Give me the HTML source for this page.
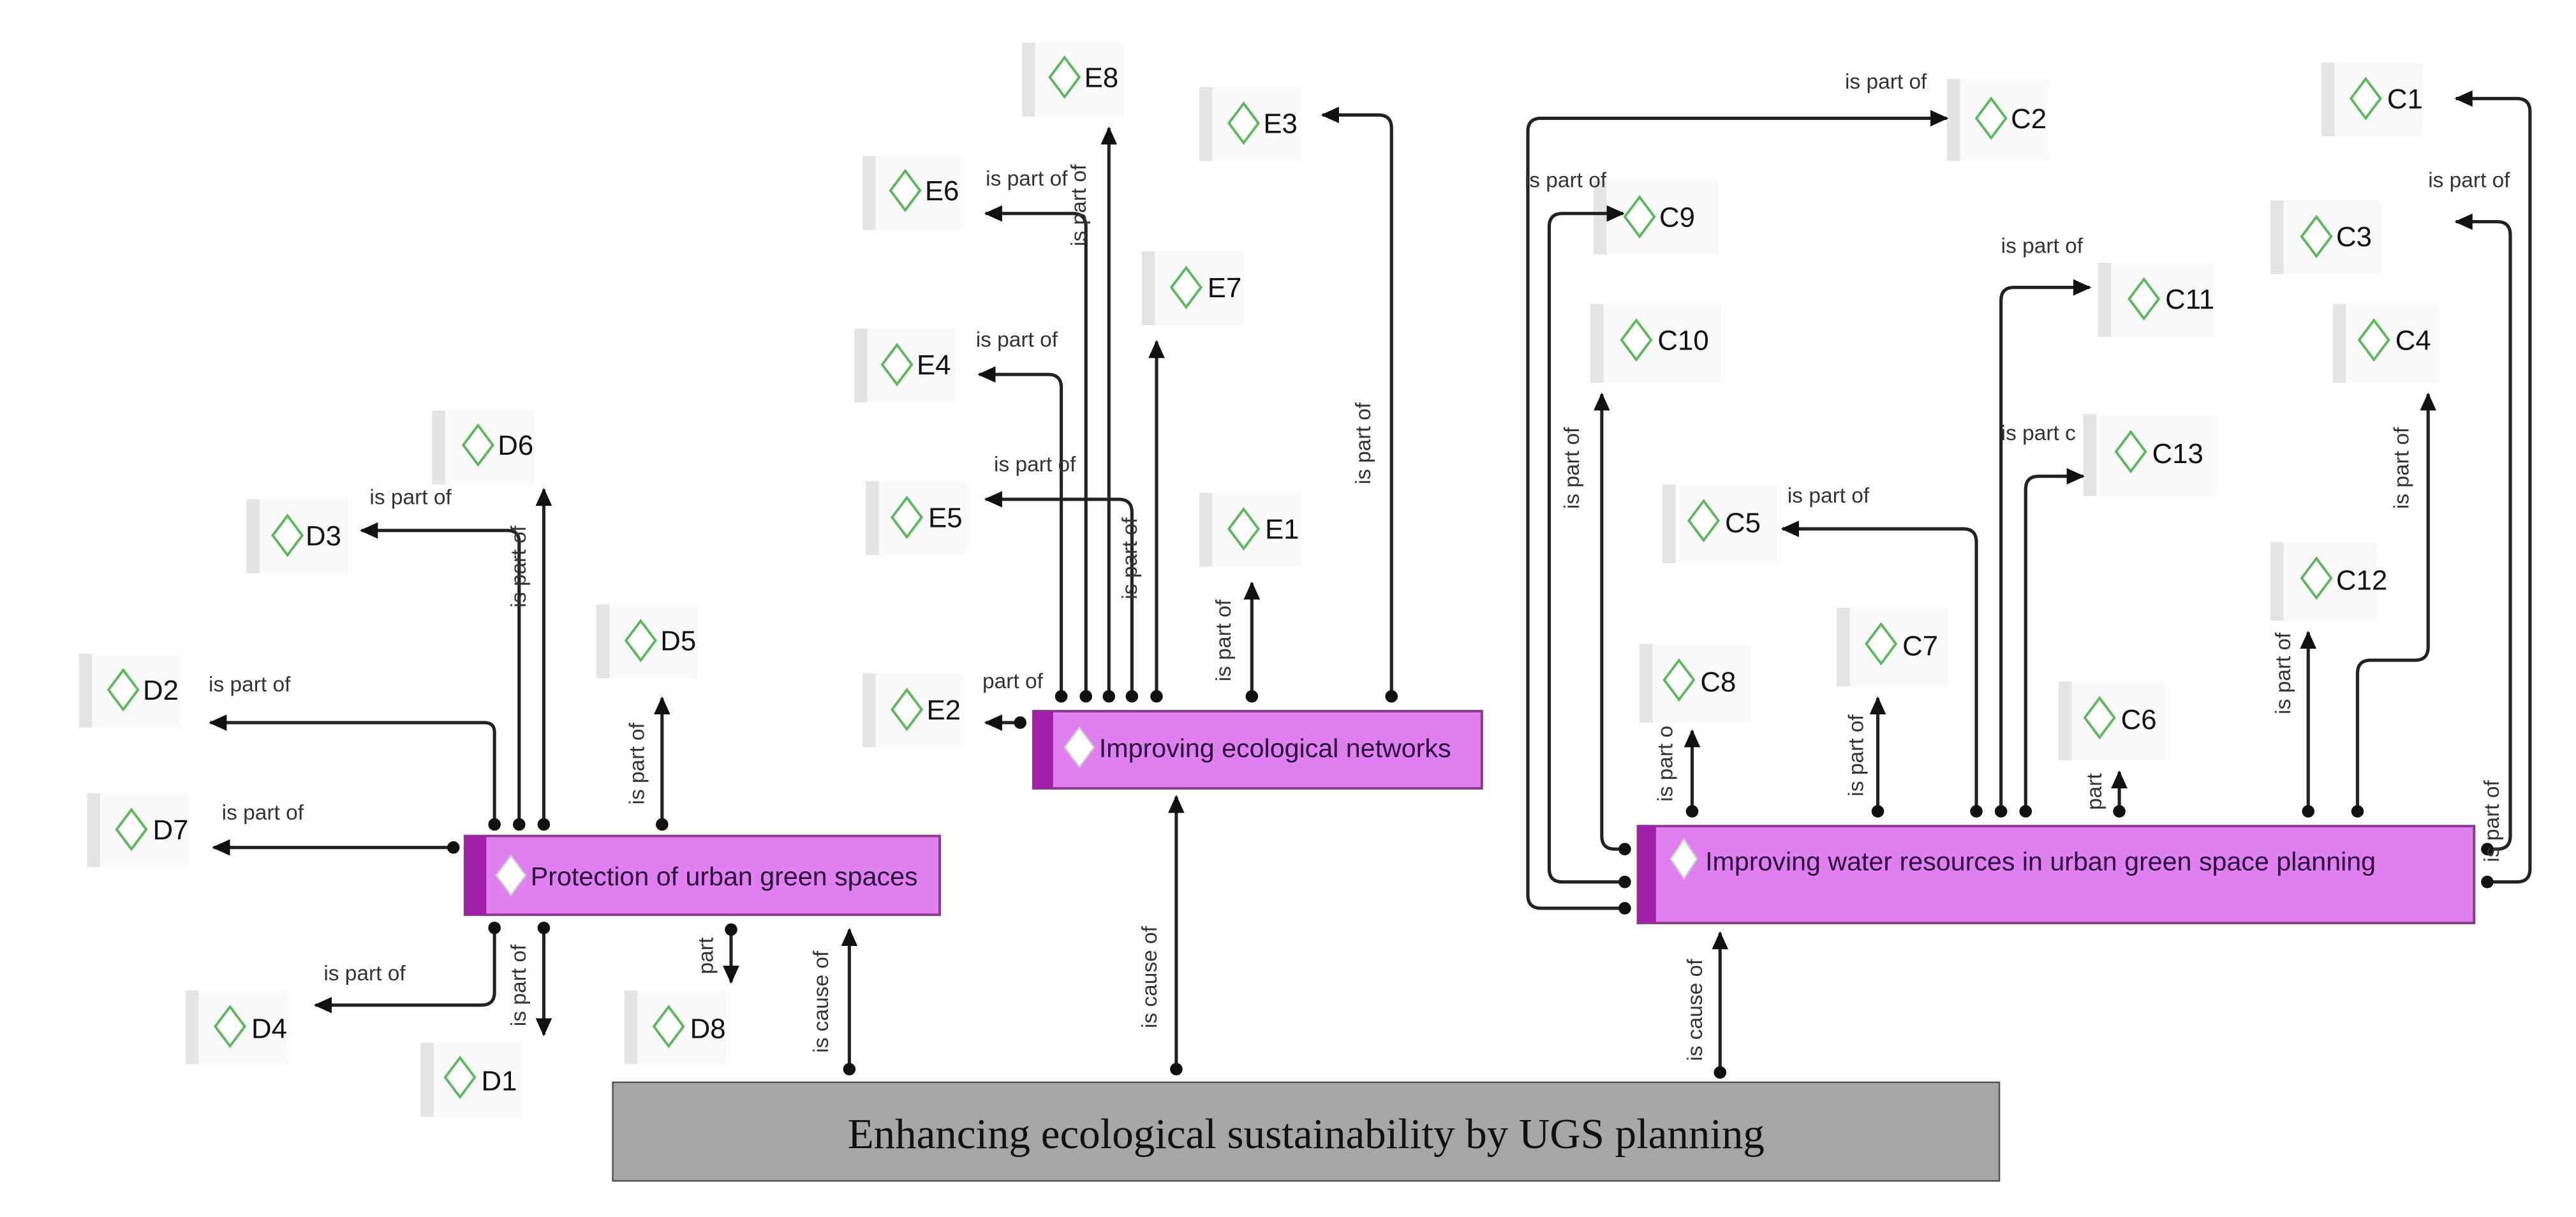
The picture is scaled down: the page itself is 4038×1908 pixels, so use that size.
<!DOCTYPE html>
<html><head><meta charset="utf-8"><style>
html,body{margin:0;padding:0;background:#fff;}
svg{display:block;}
text{font-family:"Liberation Sans",sans-serif;}
.l{font-size:13px;fill:#333;}
.n{font-size:17px;fill:#111;}
.m{font-size:16px;fill:#2a0a3a;}
.c{fill:none;stroke:#222;stroke-width:2;marker-start:url(#dot);marker-end:url(#arr);}
.box{fill:#f9f9f9;}
.str{fill:#e4e4e4;}
.dm{fill:#fff;stroke:#5cb85c;stroke-width:1.5;}
</style></head><body>
<svg width="4038" height="1908" viewBox="0 0 1568 741" preserveAspectRatio="none" xmlns="http://www.w3.org/2000/svg">
<defs>
<marker id="dot" markerWidth="8" markerHeight="8" refX="4" refY="4" markerUnits="userSpaceOnUse"><circle cx="4" cy="4" r="3.8" fill="#111"/></marker>
<marker id="arr" markerWidth="12" markerHeight="12" refX="10" refY="6" orient="auto" markerUnits="userSpaceOnUse"><path d="M0,1 L11,6 L0,11 Z" fill="#111"/></marker>
</defs>

<!-- small nodes -->
<g>
<!-- helper pattern repeated: rect, stripe, diamond, text -->
<g transform="translate(263,250)"><rect class="box" width="62" height="45"/><rect class="str" width="8" height="45"/><polygon class="dm" points="28,9 37,21 28,33 19,21"/><text class="n" x="40" y="27">D6</text></g>
<g transform="translate(150,304)"><rect class="box" width="62" height="45"/><rect class="str" width="8" height="45"/><polygon class="dm" points="25,10 34,22 25,34 16,22"/><text class="n" x="36" y="28">D3</text></g>
<g transform="translate(363,368)"><rect class="box" width="62" height="45"/><rect class="str" width="8" height="45"/><polygon class="dm" points="27,10 36,22 27,34 18,22"/><text class="n" x="39" y="28">D5</text></g>
<g transform="translate(48,398)"><rect class="box" width="62" height="45"/><rect class="str" width="8" height="45"/><polygon class="dm" points="27,10 36,22 27,34 18,22"/><text class="n" x="39" y="28">D2</text></g>
<g transform="translate(53,483)"><rect class="box" width="62" height="45"/><rect class="str" width="8" height="45"/><polygon class="dm" points="27,10 36,22 27,34 18,22"/><text class="n" x="40" y="28">D7</text></g>
<g transform="translate(113,603)"><rect class="box" width="62" height="45"/><rect class="str" width="8" height="45"/><polygon class="dm" points="27,10 36,22 27,34 18,22"/><text class="n" x="40" y="29">D4</text></g>
<g transform="translate(256,635)"><rect class="box" width="62" height="45"/><rect class="str" width="8" height="45"/><polygon class="dm" points="24,9 33,21 24,33 15,21"/><text class="n" x="37" y="29">D1</text></g>
<g transform="translate(380,603)"><rect class="box" width="62" height="45"/><rect class="str" width="8" height="45"/><polygon class="dm" points="27,10 36,22 27,34 18,22"/><text class="n" x="40" y="29">D8</text></g>

<g transform="translate(622,26)"><rect class="box" width="62" height="45"/><rect class="str" width="8" height="45"/><polygon class="dm" points="26,9 35,21 26,33 17,21"/><text class="n" x="38" y="27">E8</text></g>
<g transform="translate(730,53)"><rect class="box" width="62" height="45"/><rect class="str" width="8" height="45"/><polygon class="dm" points="27,10 36,22 27,34 18,22"/><text class="n" x="39" y="28">E3</text></g>
<g transform="translate(525,95)"><rect class="box" width="62" height="45"/><rect class="str" width="8" height="45"/><polygon class="dm" points="26,9 35,21 26,33 17,21"/><text class="n" x="38" y="27">E6</text></g>
<g transform="translate(695,153)"><rect class="box" width="62" height="45"/><rect class="str" width="8" height="45"/><polygon class="dm" points="27,10 36,22 27,34 18,22"/><text class="n" x="40" y="28">E7</text></g>
<g transform="translate(520,200)"><rect class="box" width="62" height="45"/><rect class="str" width="8" height="45"/><polygon class="dm" points="26,10 35,22 26,34 17,22"/><text class="n" x="38" y="28">E4</text></g>
<g transform="translate(527,293)"><rect class="box" width="62" height="45"/><rect class="str" width="8" height="45"/><polygon class="dm" points="25,10 34,22 25,34 16,22"/><text class="n" x="38" y="28">E5</text></g>
<g transform="translate(730,300)"><rect class="box" width="62" height="45"/><rect class="str" width="8" height="45"/><polygon class="dm" points="27,10 36,22 27,34 18,22"/><text class="n" x="40" y="28">E1</text></g>
<g transform="translate(525,410)"><rect class="box" width="62" height="45"/><rect class="str" width="8" height="45"/><polygon class="dm" points="27,10 36,22 27,34 18,22"/><text class="n" x="39" y="28">E2</text></g>

<g transform="translate(1185,48)"><rect class="box" width="62" height="50"/><rect class="str" width="8" height="50"/><polygon class="dm" points="27,12 36,24 27,36 18,24"/><text class="n" x="39" y="30">C2</text></g>
<g transform="translate(1413,38)"><rect class="box" width="62" height="45"/><rect class="str" width="8" height="45"/><polygon class="dm" points="27,10 36,22 27,34 18,22"/><text class="n" x="40" y="28">C1</text></g>
<g transform="translate(970,110)"><rect class="box" width="76" height="45"/><rect class="str" width="8" height="45"/><polygon class="dm" points="28,10 37,22 28,34 19,22"/><text class="n" x="40" y="28">C9</text></g>
<g transform="translate(1382,122)"><rect class="box" width="68" height="45"/><rect class="str" width="8" height="45"/><polygon class="dm" points="28,10 37,22 28,34 19,22"/><text class="n" x="40" y="28">C3</text></g>
<g transform="translate(1277,160)"><rect class="box" width="70" height="45"/><rect class="str" width="8" height="45"/><polygon class="dm" points="28,10 37,22 28,34 19,22"/><text class="n" x="41" y="28">C11</text></g>
<g transform="translate(968,185)"><rect class="box" width="80" height="48"/><rect class="str" width="8" height="48"/><polygon class="dm" points="28,10 37,22 28,34 19,22"/><text class="n" x="41" y="28">C10</text></g>
<g transform="translate(1420,185)"><rect class="box" width="65" height="48"/><rect class="str" width="8" height="48"/><polygon class="dm" points="25,10 34,22 25,34 16,22"/><text class="n" x="38" y="28">C4</text></g>
<g transform="translate(1268,252)"><rect class="box" width="82" height="50"/><rect class="str" width="8" height="50"/><polygon class="dm" points="29,11 38,23 29,35 20,23"/><text class="n" x="42" y="30">C13</text></g>
<g transform="translate(1012,295)"><rect class="box" width="70" height="48"/><rect class="str" width="8" height="48"/><polygon class="dm" points="25,10 34,22 25,34 16,22"/><text class="n" x="38" y="29">C5</text></g>
<g transform="translate(1382,330)"><rect class="box" width="65" height="48"/><rect class="str" width="8" height="48"/><polygon class="dm" points="28,10 37,22 28,34 19,22"/><text class="n" x="40" y="29">C12</text></g>
<g transform="translate(1118,370)"><rect class="box" width="68" height="48"/><rect class="str" width="8" height="48"/><polygon class="dm" points="27,10 36,22 27,34 18,22"/><text class="n" x="40" y="29">C7</text></g>
<g transform="translate(998,392)"><rect class="box" width="68" height="48"/><rect class="str" width="8" height="48"/><polygon class="dm" points="24,10 33,22 24,34 15,22"/><text class="n" x="37" y="29">C8</text></g>
<g transform="translate(1253,415)"><rect class="box" width="65" height="48"/><rect class="str" width="8" height="48"/><polygon class="dm" points="25,10 34,22 25,34 16,22"/><text class="n" x="38" y="29">C6</text></g>
</g>

<!-- main nodes -->
<rect x="283" y="509" width="289" height="48" fill="#e07ff0" stroke="#8a3a8a" stroke-width="1.5"/>
<rect x="283" y="509" width="13" height="48" fill="#a020a8"/>
<polygon points="311,521 320,533 311,545 302,533" fill="#fff" stroke="#ccc"/>
<text class="m" x="323" y="539">Protection of urban green spaces</text>

<rect x="629" y="433" width="273" height="47" fill="#e07ff0" stroke="#8a3a8a" stroke-width="1.5"/>
<rect x="629" y="433" width="12" height="47" fill="#a020a8"/>
<polygon points="657,443 666,455 657,467 648,455" fill="#fff" stroke="#ccc"/>
<text class="m" x="669" y="461">Improving ecological networks</text>

<rect x="997" y="503" width="509" height="59" fill="#e07ff0" stroke="#8a3a8a" stroke-width="1.5"/>
<rect x="997" y="503" width="11" height="59" fill="#a020a8"/>
<polygon points="1025,511 1033,523 1025,535 1017,523" fill="#fff" stroke="#ccc"/>
<text class="m" x="1038" y="530">Improving water resources in urban green space planning</text>

<!-- bottom box -->
<rect x="373" y="659" width="844" height="60" fill="#a6a6a6" stroke="#555" stroke-width="1"/>
<text x="795" y="699" text-anchor="middle" style="font-family:'Liberation Serif',serif;font-size:26px;fill:#111">Enhancing ecological sustainability by UGS planning</text>

<!-- Protection connectors -->
<path class="c" d="M301,502 V446 Q301,440 295,440 H128"/>
<path class="c" d="M316,502 V330 Q316,323 309,323 H220"/>
<path class="c" d="M331,502 V298"/>
<path class="c" d="M403,502 V425"/>
<path class="c" d="M276,516 H130"/>
<path class="c" d="M301,565 V604 Q301,612 293,612 H192"/>
<path class="c" d="M331,565 V630"/>
<path class="c" d="M445,566 V598"/>
<path class="c" d="M517,651 V566"/>

<!-- Eco connectors -->
<path class="c" d="M646,424 V236 Q646,228 638,228 H596"/>
<path class="c" d="M661,424 V138 Q661,130 653,130 H600"/>
<path class="c" d="M675,424 V78"/>
<path class="c" d="M689,424 V312 Q689,304 681,304 H600"/>
<path class="c" d="M704,424 V208"/>
<path class="c" d="M762,424 V355"/>
<path class="c" d="M847,424 V78 Q847,70 839,70 H805"/>
<path class="c" d="M621,440 H600"/>
<path class="c" d="M716,651 V485"/>

<!-- Water connectors -->
<path class="c" d="M989,553 H938 Q930,553 930,545 V80 Q930,72 938,72 H1185"/>
<path class="c" d="M989,537 H951 Q943,537 943,529 V138 Q943,130 951,130 H988"/>
<path class="c" d="M989,517 H983 Q975,517 975,509 V240"/>
<path class="c" d="M1030,494 V445"/>
<path class="c" d="M1143,494 V425"/>
<path class="c" d="M1203,494 V330 Q1203,322 1195,322 H1085"/>
<path class="c" d="M1218,494 V183 Q1218,175 1226,175 H1272"/>
<path class="c" d="M1233,494 V298 Q1233,290 1241,290 H1268"/>
<path class="c" d="M1290,494 V470"/>
<path class="c" d="M1405,494 V385"/>
<path class="c" d="M1435,494 V410 Q1435,402 1443,402 H1470 Q1478,402 1478,394 V240"/>
<path class="c" d="M1514,517 H1520 Q1528,517 1528,509 V143 Q1528,135 1520,135 H1495"/>
<path class="c" d="M1514,537 H1532 Q1540,537 1540,529 V68 Q1540,60 1532,60 H1495"/>
<path class="c" d="M1047,653 V568"/>

<!-- horizontal labels -->
<text class="l" x="127" y="421">is part of</text>
<text class="l" x="225" y="307">is part of</text>
<text class="l" x="135" y="499">is part of</text>
<text class="l" x="197" y="597">is part of</text>
<text class="l" x="594" y="211">is part of</text>
<text class="l" x="600" y="113">is part of</text>
<text class="l" x="605" y="287">is part of</text>
<text class="l" x="598" y="419">part of</text>
<text class="l" x="1123" y="54">is part of</text>
<text class="l" x="928" y="114">is part of</text>
<text class="l" x="1218" y="154">is part of</text>
<text class="l" x="1218" y="268">is part c</text>
<text class="l" x="1088" y="306">is part of</text>
<text class="l" x="1478" y="114">is part of</text>

<!-- vertical labels -->
<g class="l">
<text transform="translate(320,345) rotate(-90)" text-anchor="middle">is part of</text>
<text transform="translate(392,465) rotate(-90)" text-anchor="middle">is part of</text>
<text transform="translate(320,600) rotate(-90)" text-anchor="middle">is part of</text>
<text transform="translate(434,582) rotate(-90)" text-anchor="middle">part</text>
<text transform="translate(504,610) rotate(-90)" text-anchor="middle">is cause of</text>
<text transform="translate(661,125) rotate(-90)" text-anchor="middle">is part of</text>
<text transform="translate(692,340) rotate(-90)" text-anchor="middle">is part of</text>
<text transform="translate(749,390) rotate(-90)" text-anchor="middle">is part of</text>
<text transform="translate(834,270) rotate(-90)" text-anchor="middle">is part of</text>
<text transform="translate(704,595) rotate(-90)" text-anchor="middle">is cause of</text>
<text transform="translate(961,285) rotate(-90)" text-anchor="middle">is part of</text>
<text transform="translate(1018,465) rotate(-90)" text-anchor="middle">is part o</text>
<text transform="translate(1134,460) rotate(-90)" text-anchor="middle">is part of</text>
<text transform="translate(1279,482) rotate(-90)" text-anchor="middle">part</text>
<text transform="translate(1394,410) rotate(-90)" text-anchor="middle">is part of</text>
<text transform="translate(1466,285) rotate(-90)" text-anchor="middle">is part of</text>
<text transform="translate(1521,500) rotate(-90)" text-anchor="middle">is part of</text>
<text transform="translate(1036,615) rotate(-90)" text-anchor="middle">is cause of</text>
</g>
</svg>
</body></html>
